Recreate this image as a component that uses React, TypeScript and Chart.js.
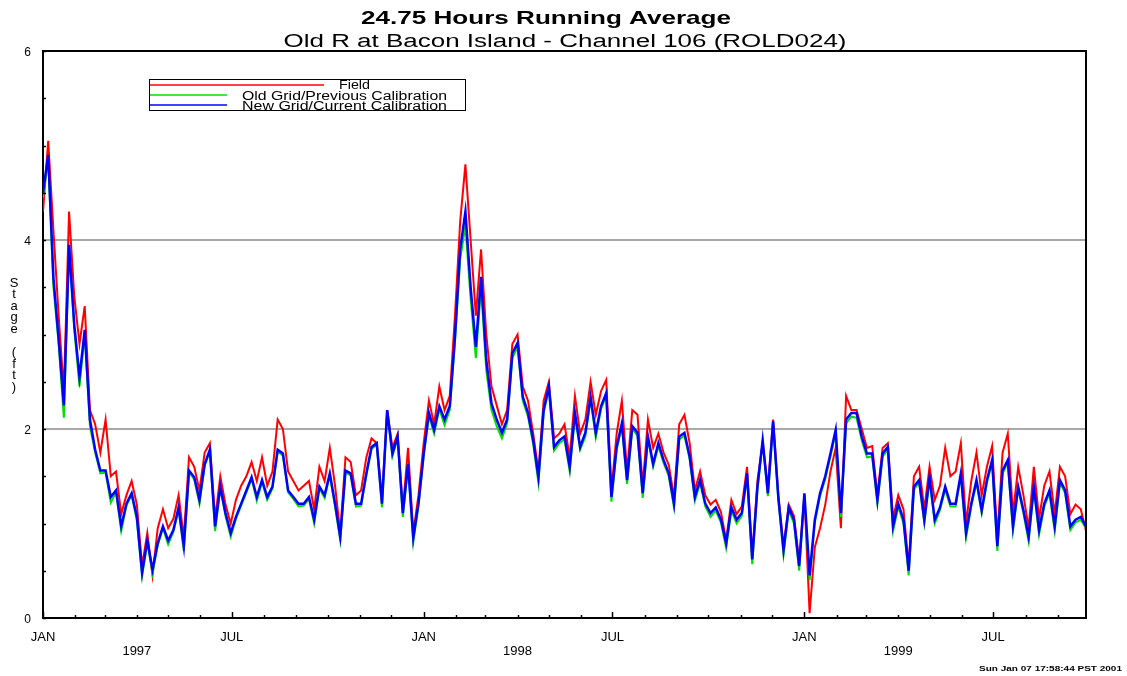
import React, { useEffect, useRef } from "react";
import { Chart, registerables } from "chart.js";

Chart.register(...registerables);

// Sampling: every 5 days starting 1 Jan 1997 (day 0) up to day 1000 (late Sep 1999)
const STEP_DAYS = 5;
const SAMPLE_COUNT = 201;
const SAMPLE_DAYS: number[] = Array.from({ length: SAMPLE_COUNT }, (_, i) => i * STEP_DAYS);

// Stage (ft) — New Grid / Current Calibration (blue)
const NEW_GRID: number[] = [
  4.5, 4.9, 3.6, 2.95, 2.25, 3.95, 3.1, 2.55, 3.05, 2.1,
  1.78, 1.56, 1.56, 1.28, 1.35, 0.97, 1.21, 1.32, 1.07, 0.48,
  0.82, 0.51, 0.79, 0.97, 0.82, 0.93, 1.17, 0.76, 1.56, 1.49,
  1.25, 1.63, 1.78, 0.97, 1.39, 1.11, 0.9, 1.07, 1.21, 1.35,
  1.49, 1.28, 1.46, 1.28, 1.39, 1.78, 1.74, 1.35, 1.28, 1.21,
  1.21, 1.28, 1.04, 1.39, 1.3, 1.53, 1.21, 0.86, 1.56, 1.53,
  1.21, 1.21, 1.53, 1.81, 1.85, 1.21, 2.2, 1.74, 1.92, 1.11,
  1.63, 0.85, 1.21, 1.74, 2.17, 1.99, 2.24, 2.1, 2.24, 2.98,
  3.9, 4.3, 3.5, 2.87, 3.61, 2.73, 2.27, 2.1, 1.96, 2.1,
  2.8, 2.91, 2.34, 2.17, 1.88, 1.49, 2.2, 2.45, 1.81, 1.88,
  1.92, 1.6, 2.17, 1.81, 1.96, 2.34, 1.96, 2.24, 2.38, 1.28,
  1.81, 2.06, 1.46, 2.03, 1.96, 1.32, 1.92, 1.63, 1.85, 1.67,
  1.53, 1.21, 1.92, 1.96, 1.71, 1.28, 1.46, 1.21, 1.11, 1.17,
  1.04, 0.79, 1.17, 1.04, 1.11, 1.53, 0.62, 1.39, 1.88, 1.32,
  2.08, 1.28, 0.72, 1.17, 1.04, 0.55, 1.32, 0.45, 1.04, 1.32,
  1.5, 1.74, 1.99, 1.11, 2.1, 2.17, 2.17, 1.92, 1.74, 1.74,
  1.25, 1.74, 1.81, 0.97, 1.21, 1.04, 0.5, 1.39, 1.46, 1.04,
  1.49, 1.04, 1.17, 1.39, 1.21, 1.21, 1.53, 0.9, 1.21, 1.46,
  1.14, 1.46, 1.67, 0.76, 1.56, 1.67, 0.97, 1.39, 1.14, 0.86,
  1.39, 0.93, 1.21, 1.35, 0.97, 1.46, 1.35, 0.97, 1.04, 1.07,
  0.97,
];

// Stage (ft) — Field (red)
const FIELD: number[] = [
  4.3, 5.05, 4.1, 3.2, 2.4, 4.3, 3.4, 2.9, 3.3, 2.2,
  2.05, 1.75, 2.1, 1.5, 1.55, 1.1, 1.3, 1.45, 1.2, 0.55,
  0.9, 0.45, 0.95, 1.15, 0.95, 1.05, 1.3, 0.85, 1.7, 1.6,
  1.35, 1.75, 1.85, 1.05, 1.5, 1.2, 1.0, 1.25, 1.4, 1.5,
  1.65, 1.45, 1.7, 1.4, 1.55, 2.1, 2.0, 1.55, 1.45, 1.35,
  1.4, 1.45, 1.15, 1.6, 1.45, 1.8, 1.4, 0.9, 1.7, 1.65,
  1.3, 1.35, 1.7, 1.9, 1.85, 1.25, 2.2, 1.8, 1.95, 1.15,
  1.8, 0.9, 1.3, 1.85, 2.3, 2.05, 2.45, 2.2, 2.35, 3.2,
  4.2, 4.8, 4.0, 3.2, 3.9, 3.0, 2.45, 2.25, 2.05, 2.2,
  2.9, 3.0, 2.45, 2.3, 1.95, 1.55, 2.3, 2.5, 1.9, 1.95,
  2.05, 1.7, 2.35, 1.95, 2.1, 2.5, 2.15, 2.4, 2.52, 1.35,
  1.95, 2.3, 1.55, 2.2, 2.15, 1.4, 2.1, 1.8, 1.95, 1.75,
  1.62, 1.28, 2.05, 2.15, 1.85, 1.35, 1.55, 1.3, 1.2, 1.25,
  1.12, 0.82, 1.25, 1.1, 1.18, 1.6, 0.65, 1.45, 1.85, 1.38,
  2.1, 1.3, 0.75, 1.2, 1.08, 0.6, 1.3, 0.05, 0.75, 0.95,
  1.2, 1.55, 1.8, 0.95, 2.35, 2.2, 2.2, 2.0, 1.8, 1.82,
  1.3, 1.8, 1.85, 1.05, 1.3, 1.15, 0.55, 1.5, 1.6, 1.15,
  1.6, 1.25, 1.4, 1.8, 1.5, 1.55, 1.85, 1.0, 1.45, 1.75,
  1.3, 1.6, 1.82, 0.85, 1.75, 1.95, 1.1, 1.6, 1.3, 0.95,
  1.6, 1.05, 1.4, 1.55, 1.1, 1.6, 1.5, 1.1, 1.2, 1.15,
  0.92,
];

// Stage (ft) — Old Grid / Previous Calibration (green)
const OLD_GRID: number[] = [
  4.45, 4.85, 3.5, 2.9, 2.12, 3.9, 3.05, 2.45, 3.0, 2.03,
  1.75, 1.53, 1.54, 1.22, 1.33, 0.92, 1.19, 1.3, 1.03, 0.44,
  0.8, 0.47, 0.77, 0.95, 0.78, 0.91, 1.15, 0.71, 1.54, 1.47,
  1.21, 1.61, 1.76, 0.92, 1.37, 1.08, 0.86, 1.05, 1.19, 1.33,
  1.47, 1.24, 1.44, 1.25, 1.37, 1.76, 1.72, 1.33, 1.26, 1.18,
  1.19, 1.26, 1.0, 1.37, 1.27, 1.51, 1.18, 0.82, 1.54, 1.51,
  1.18, 1.19, 1.51, 1.79, 1.83, 1.17, 2.18, 1.71, 1.9, 1.07,
  1.61, 0.8, 1.19, 1.72, 2.14, 1.95, 2.21, 2.04, 2.2, 2.92,
  3.8, 4.15, 3.38, 2.75, 3.5, 2.62, 2.2, 2.03, 1.9, 2.06,
  2.75, 2.87, 2.3, 2.13, 1.84, 1.43, 2.17, 2.42, 1.77, 1.85,
  1.89, 1.55, 2.14, 1.78, 1.92, 2.31, 1.91, 2.21, 2.35, 1.23,
  1.78, 2.03, 1.42, 2.0, 1.93, 1.27, 1.89, 1.6, 1.82, 1.64,
  1.5, 1.17, 1.89, 1.93, 1.68, 1.24, 1.43, 1.18, 1.07, 1.14,
  1.01, 0.74, 1.14, 1.0, 1.08, 1.5, 0.57, 1.36, 1.86, 1.29,
  2.05, 1.25, 0.67, 1.14, 1.0, 0.5, 1.29, 0.4, 1.01, 1.29,
  1.47, 1.71, 1.96, 1.07, 2.06, 2.13, 2.12, 1.88, 1.7, 1.71,
  1.21, 1.71, 1.78, 0.92, 1.18, 1.0, 0.45, 1.36, 1.43, 1.0,
  1.46, 1.0, 1.14, 1.36, 1.18, 1.18, 1.5, 0.85, 1.18, 1.43,
  1.11, 1.43, 1.64, 0.71, 1.53, 1.64, 0.92, 1.36, 1.11, 0.81,
  1.36, 0.88, 1.18, 1.32, 0.92, 1.43, 1.32, 0.93, 1.01, 1.04,
  0.95,
];

// Month starts (days since 1 Jan 1997)
const MONTH_START_DAYS: number[] = [
  0, 31, 59, 90, 120, 151, 181, 212, 243, 273, 304, 334,
  365, 396, 424, 455, 485, 516, 546, 577, 608, 638, 669, 699,
  730, 761, 789, 820, 850, 881, 911, 942, 973,
];
const MONTH_NAMES: string[] = ["JAN", "FEB", "MAR", "APR", "MAY", "JUN", "JUL", "AUG", "SEP", "OCT", "NOV", "DEC"];
const SHOWN_MONTHS: string[] = ["JAN", "JUL"];
const YEAR_LABELS: string[] = ["1997", "1998", "1999"];
const YEAR_LABEL_DAYS: number[] = [90, 455, 820];

const Y_LABEL_VALUES: number[] = [0, 2, 4, 6];
const Y_GRID_VALUES: number[] = [2, 4];

const TITLE = "24.75 Hours Running Average";
const SUBTITLE = "Old R at Bacon Island - Channel 106 (ROLD024)";
const Y_TITLE_CHARS: string[] = ["S", "t", "a", "g", "e", "", "(", "f", "t", ")"];
const FOOTER = "Sun Jan 07 17:58:44 PST 2001";

const SERIES_NAMES = {
  field: "Field",
  oldGrid: "Old Grid/Previous Calibration",
  newGrid: "New Grid/Current Calibration",
};
const COLORS = { field: "#ff0000", oldGrid: "#00e000", newGrid: "#0000ff" };

const FONT = '"Liberation Sans", Arial, Helvetica, sans-serif';

function drawStretched(
  ctx: CanvasRenderingContext2D,
  text: string,
  x: number,
  y: number,
  font: string,
  align: CanvasTextAlign,
  targetWidth: number
) {
  ctx.save();
  ctx.font = font;
  const w = ctx.measureText(text).width || 1;
  const sx = targetWidth / w;
  ctx.translate(x, y);
  ctx.scale(sx, 1);
  ctx.textAlign = align;
  ctx.textBaseline = "alphabetic";
  ctx.fillStyle = "#000";
  ctx.fillText(text, 0, 0);
  ctx.restore();
}

const decorPlugin = {
  id: "decor",
  afterDraw(chart: any) {
    const ctx: CanvasRenderingContext2D = chart.ctx;
    const { left, right, top, bottom } = chart.chartArea;
    const xs = chart.scales.x;
    const ys = chart.scales.y;

    ctx.save();
    // frame top and right
    ctx.strokeStyle = "#000";
    ctx.lineWidth = 2;
    ctx.beginPath();
    ctx.moveTo(left, top);
    ctx.lineTo(right, top);
    ctx.lineTo(right, bottom);
    ctx.stroke();

    // inward tick marks on x axis
    ctx.lineWidth = 1.5;
    xs.ticks.forEach((t: any) => {
      const idx = MONTH_START_DAYS.indexOf(t.value);
      const name = MONTH_NAMES[idx % 12];
      const len = SHOWN_MONTHS.includes(name) ? 6 : 3;
      const px = Math.round(xs.getPixelForValue(t.value)) + 0.5;
      ctx.beginPath();
      ctx.moveTo(px, bottom);
      ctx.lineTo(px, bottom - len);
      ctx.stroke();
    });
    // inward tick marks on y axis
    ys.ticks.forEach((t: any) => {
      const py = Math.round(ys.getPixelForValue(t.value)) + 0.5;
      ctx.beginPath();
      ctx.moveTo(left, py);
      ctx.lineTo(left + 3, py);
      ctx.stroke();
    });
    ctx.restore();

    // titles
    drawStretched(ctx, TITLE, 546, 24, `bold 19px ${FONT}`, "center", 370);
    drawStretched(ctx, SUBTITLE, 565, 47, `18px ${FONT}`, "center", 563);

    // legend box
    ctx.save();
    ctx.fillStyle = "#fff";
    ctx.fillRect(150, 80, 315, 30);
    ctx.strokeStyle = "#000";
    ctx.lineWidth = 1;
    ctx.strokeRect(149.5, 79.5, 316, 31);
    ctx.lineWidth = 1.5;
    ctx.strokeStyle = COLORS.field;
    ctx.beginPath();
    ctx.moveTo(150, 85);
    ctx.lineTo(324, 85);
    ctx.stroke();
    ctx.strokeStyle = COLORS.oldGrid;
    ctx.beginPath();
    ctx.moveTo(150, 95);
    ctx.lineTo(227, 95);
    ctx.stroke();
    ctx.strokeStyle = COLORS.newGrid;
    ctx.beginPath();
    ctx.moveTo(150, 105);
    ctx.lineTo(227, 105);
    ctx.stroke();
    ctx.restore();
    drawStretched(ctx, SERIES_NAMES.field, 339, 89, `12px ${FONT}`, "left", 31);
    drawStretched(ctx, SERIES_NAMES.oldGrid, 242, 100, `12px ${FONT}`, "left", 205);
    drawStretched(ctx, SERIES_NAMES.newGrid, 242, 110, `12px ${FONT}`, "left", 205);

    // y axis title, stacked letters
    ctx.save();
    ctx.fillStyle = "#000";
    ctx.font = `13px ${FONT}`;
    ctx.textAlign = "center";
    ctx.textBaseline = "middle";
    Y_TITLE_CHARS.forEach((c, i) => {
      if (c) ctx.fillText(c, 14, 283 + i * 11.6);
    });
    ctx.restore();

    // footer stamp
    drawStretched(ctx, FOOTER, 979, 671, `bold 7px ${FONT}`, "left", 143);
  },
};

export default function App() {
  const canvasRef = useRef<HTMLCanvasElement | null>(null);

  useEffect(() => {
    document.body.style.margin = "0";
    const canvas = canvasRef.current;
    if (!canvas) return;

    const toPoints = (arr: number[]) => SAMPLE_DAYS.map((d, i) => ({ x: d, y: arr[i] }));

    const chart = new Chart(canvas, {
      type: "line",
      data: {
        datasets: [
          {
            label: SERIES_NAMES.newGrid,
            data: toPoints(NEW_GRID),
            borderColor: COLORS.newGrid,
            borderWidth: 2.5,
            pointRadius: 0,
            tension: 0,
            order: 0,
          },
          {
            label: SERIES_NAMES.oldGrid,
            data: toPoints(OLD_GRID),
            borderColor: COLORS.oldGrid,
            borderWidth: 2,
            pointRadius: 0,
            tension: 0,
            order: 1,
          },
          {
            label: SERIES_NAMES.field,
            data: toPoints(FIELD),
            borderColor: COLORS.field,
            borderWidth: 2,
            pointRadius: 0,
            tension: 0,
            order: 2,
          },
        ],
      },
      options: {
        responsive: false,
        animation: false,
        devicePixelRatio: 1,
        layout: { padding: { top: 51, right: 41, left: 0, bottom: 0 } },
        plugins: {
          legend: { display: false },
          title: { display: false },
          tooltip: { enabled: false },
        },
        scales: {
          x: {
            type: "linear",
            min: 0,
            max: 1000,
            afterBuildTicks: (scale: any) => {
              scale.ticks = MONTH_START_DAYS.map((v) => ({ value: v }));
            },
            afterFit: (scale: any) => {
              scale.height = 58;
            },
            grid: { display: false, drawTicks: false },
            border: { display: true, color: "#000", width: 2 },
            ticks: {
              autoSkip: false,
              maxRotation: 0,
              minRotation: 0,
              padding: 12,
              color: "#000",
              font: { family: FONT, size: 13, lineHeight: 1.1 },
              callback: (value: any) => {
                const v = Number(value);
                const idx = MONTH_START_DAYS.indexOf(v);
                const name = idx >= 0 ? MONTH_NAMES[idx % 12] : "";
                const yi = YEAR_LABEL_DAYS.indexOf(v);
                if (yi >= 0) return ["", YEAR_LABELS[yi]];
                return SHOWN_MONTHS.includes(name) ? name : "";
              },
            },
          },
          y: {
            min: 0,
            max: 6,
            afterFit: (scale: any) => {
              scale.width = 43;
            },
            grid: {
              drawTicks: false,
              lineWidth: 2,
              color: (c: any) =>
                c.tick && Y_GRID_VALUES.includes(c.tick.value) ? "#a8a8a8" : "rgba(0,0,0,0)",
            },
            border: { display: true, color: "#000", width: 2 },
            ticks: {
              stepSize: 0.5,
              autoSkip: false,
              padding: 12,
              labelOffset: 2,
              color: "#000",
              font: { family: FONT, size: 12 },
              callback: (value: any) => (Y_LABEL_VALUES.includes(Number(value)) ? String(value) : ""),
            },
          },
        },
      },
      plugins: [decorPlugin],
    });

    return () => {
      chart.destroy();
    };
  }, []);

  return (
    <div style={{ width: 1127, height: 676, background: "#fff" }}>
      <canvas ref={canvasRef} width={1127} height={676} style={{ display: "block" }} />
    </div>
  );
}
